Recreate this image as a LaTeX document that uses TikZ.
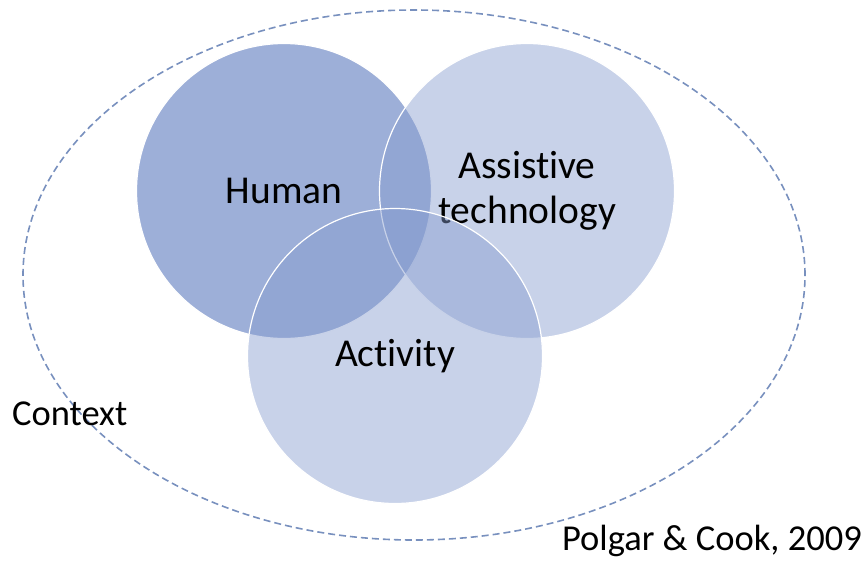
\documentclass[tikz,border=0pt]{standalone}
\usepackage{fontspec}
\setmainfont[Ligatures=NoCommon]{Carlito}
\usepackage{tikz}
\usetikzlibrary{shapes.geometric}
\definecolor{venblue}{RGB}{133,155,206}
\definecolor{ctxblue}{RGB}{120,144,190}

\begin{document}
\begin{tikzpicture}[
					x=1pt, y=-1pt,
					set/.style={circle, draw=white, line width=1.2pt, minimum size=295pt, inner sep=0pt, align=center, font=\fontsize{39.5}{45}\selectfont},
					context/.style={ellipse, draw=ctxblue, line width=1.6pt, dash pattern=on 7pt off 4pt, minimum width=782pt, minimum height=530pt, inner sep=0pt},
					label/.style={font=\fontsize{36.5}{42}\selectfont, inner sep=0pt}
					]
					\useasboundingbox (0,0) rectangle (866,562);
					% Define nodes
					\node[context] (ctx) at (414,275) {};
					\node[set, fill=venblue, fill opacity=0.8, text opacity=1] (human) at (284,191) {Human};
					\node[set, fill=venblue, fill opacity=0.45, text opacity=1] (tech) at (527,191) {Assistive\\technology};
					\node[set, fill=venblue, fill opacity=0.45, text opacity=1] (activity) at (395,356) {};
					\node[font=\fontsize{39.5}{45}\selectfont] (activitylabel) at (activity) {Activity};
					
					% Labels
					\node[label, anchor=west] (ctxlabel) at (12,414) {Context};
					\node[label, anchor=east] (source) at (862,541) {Polgar \& Cook, 2009};
				\end{tikzpicture}
\end{document}
